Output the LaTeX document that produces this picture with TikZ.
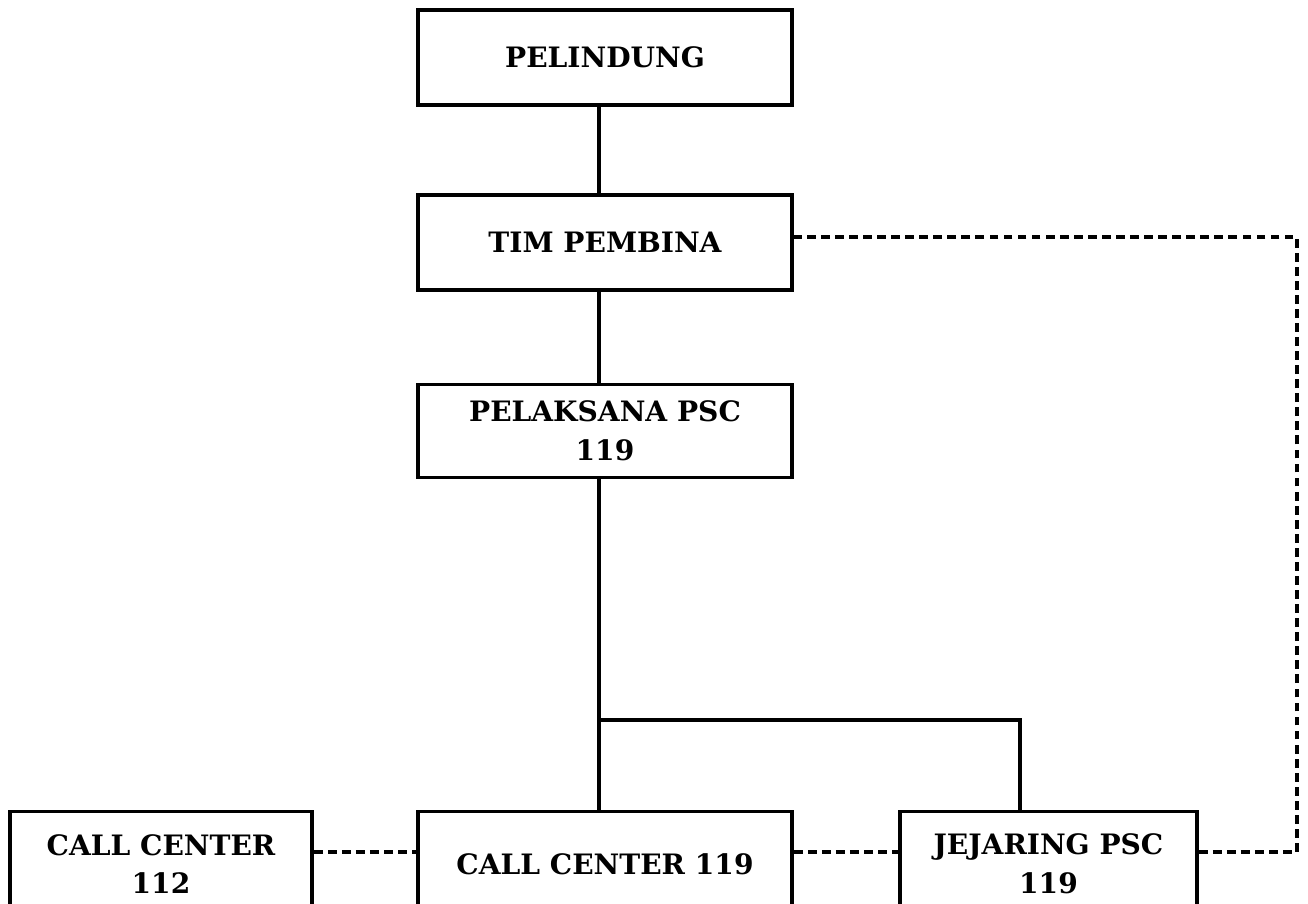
\documentclass[tikz,border=0pt]{standalone}
\usepackage{fontspec}
\setmainfont{DejaVu Serif}
\tikzset{
  unit/.style={draw,line width=2pt,rectangle,align=center,inner sep=0pt,
    font=\fontsize{16}{22}\selectfont\bfseries},
  link/.style={line width=2pt},
  dlink/.style={line width=1.8pt,dash pattern=on 5pt off 3pt}
}
\begin{document}
\begin{tikzpicture}[x=0.02cm,y=-0.02cm]
\useasboundingbox (0,0) rectangle (1308,903);
\clip (0,0) rectangle (1308,903);
% upper column
\node[unit,minimum width=7.48cm,minimum height=1.9cm] (pel) at (605,57.5) {PELINDUNG};
\node[unit,minimum width=7.48cm,minimum height=1.9cm] (pemb) at (605,242.5) {TIM PEMBINA};
\node[unit,minimum width=7.48cm,minimum height=1.86cm] (pks) at (605,431) {PELAKSANA PSC\\119};
% bottom row
\node[unit,minimum width=6.04cm,minimum height=2.1cm] (cc112) at (161,864) {CALL CENTER\\112};
\node[unit,minimum width=7.48cm,minimum height=2.1cm] (cc119) at (605,864) {CALL CENTER 119};
\node[unit,minimum width=5.94cm,minimum height=2.1cm] (jej) at (1048.5,864) {JEJARING PSC\\119};
\coordinate (sp) at (599,720);
\coordinate (jt) at (1020,720);
\coordinate (rt) at (1297,237);
\draw[link] (pel.south -| sp) -- (pemb.north -| sp);
\draw[link] (pemb.south -| sp) -- (pks.north -| sp);
\draw[link] (pks.south -| sp) -- (sp) -- (cc119.north -| sp);
\draw[link] (sp) -- (jt) -- (jej.north -| jt);
% dashed
\draw[dlink] ([yshift=0.24cm]cc112.east) -- ([yshift=0.24cm]cc119.west);
\draw[dlink] ([yshift=0.24cm]cc119.east) -- ([yshift=0.24cm]jej.west);
\draw[dlink] ([yshift=0.24cm]jej.east) -- ([yshift=0.24cm]jej.east -| rt) -- (rt) -- (rt -| pemb.east);
\end{tikzpicture}
\end{document}
